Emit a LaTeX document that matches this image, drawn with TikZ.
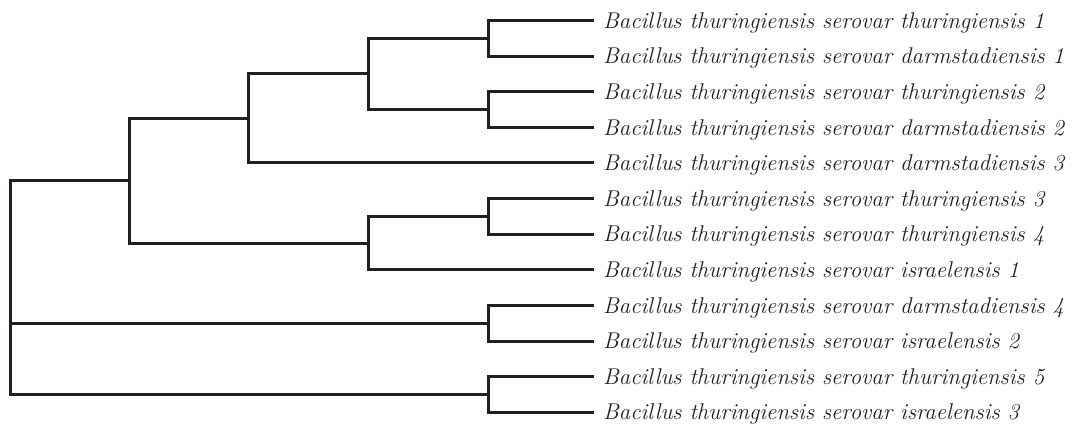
\documentclass[tikz,border=0pt]{standalone}
\definecolor{ink}{RGB}{35,31,32}
\begin{document}
\begin{tikzpicture}[x=1pt,y=-1pt,
  branch/.style={draw=ink,line width=3pt},
  leaf/.style={anchor=west,inner xsep=9pt,inner ysep=0pt,text=ink,
    font=\fontsize{22.8}{26}\selectfont\itshape,
    text height=15.5pt,text depth=0pt}]
\useasboundingbox (0,0) rectangle (1074,425);
% leaves
\foreach \i/\t [evaluate=\i as \yy using 20.6+35.6*(\i-1)] in {
  1/Bacillus thuringiensis serovar thuringiensis 1,
  2/Bacillus thuringiensis serovar darmstadiensis 1,
  3/Bacillus thuringiensis serovar thuringiensis 2,
  4/Bacillus thuringiensis serovar darmstadiensis 2,
  5/Bacillus thuringiensis serovar darmstadiensis 3,
  6/Bacillus thuringiensis serovar thuringiensis 3,
  7/Bacillus thuringiensis serovar thuringiensis 4,
  8/Bacillus thuringiensis serovar israelensis 1,
  9/Bacillus thuringiensis serovar darmstadiensis 4,
  10/Bacillus thuringiensis serovar israelensis 2,
  11/Bacillus thuringiensis serovar thuringiensis 5,
  12/Bacillus thuringiensis serovar israelensis 3}
  \node[leaf] (l\i) at (594,\yy) {\t};
% internal nodes
\coordinate (a12) at (488,38.4);
\coordinate (a34) at (488,109.6);
\coordinate (a67) at (488,216.4);
\coordinate (a910) at (488,323.2);
\coordinate (a1112) at (488,394.4);
\coordinate (b14) at (368,74.0);
\coordinate (b68) at (368,243.1);
\coordinate (c15) at (248,118.5);
\coordinate (d18) at (129,180.8);
\coordinate (root) at (10.5,180.8);
% branches
\draw[branch] (l1.west) -| (a12) |- (l2.west);
\draw[branch] (l3.west) -| (a34) |- (l4.west);
\draw[branch] (l6.west) -| (a67) |- (l7.west);
\draw[branch] (l9.west) -| (a910) |- (l10.west);
\draw[branch] (l11.west) -| (a1112) |- (l12.west);
\draw[branch] (a12) -| (b14) |- (a34);
\draw[branch] (a67) -| (b68) |- (l8.west);
\draw[branch] (b14) -| (c15) |- (l5.west);
\draw[branch] (c15) -| (d18) |- (b68);
\draw[branch] (d18) -- (root) |- (a1112);
\draw[branch] (root |- a910) -- (a910);
\end{tikzpicture}
\end{document}
